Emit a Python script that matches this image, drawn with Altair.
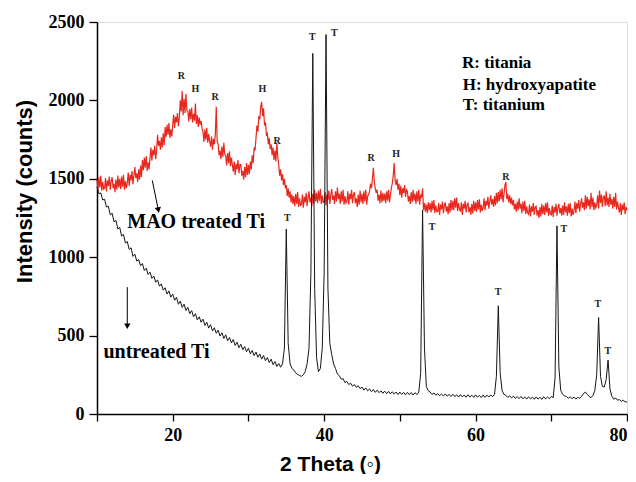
import altair as alt
import pandas as pd

# 2-theta grids (deg)
X_START = 10.0
U_STEP = 0.25   # untreated scan
M_STEP = 0.125  # MAO scan

# untreated Ti (black), one row per degree: .00 .25 .50 .75
untreated = [
    1450, 1405, 1410, 1365,
    1370, 1320, 1325, 1270,
    1280, 1225, 1235, 1180,
    1190, 1135, 1145, 1090,
    1100, 1050, 1060, 1005,
    1020, 975, 985, 945,
    960, 915, 930, 890,
    905, 865, 880, 840,
    855, 815, 830, 790,
    805, 765, 785, 745,
    765, 725, 745, 700,
    720, 680, 700, 660,
    680, 640, 660, 620,
    640, 600, 620, 585,
    605, 565, 585, 548,
    570, 530, 550, 515,
    535, 497, 518, 482,
    505, 467, 488, 453,
    475, 437, 458, 423,
    445, 410, 430, 397,
    420, 384, 405, 372,
    395, 362, 383, 350,
    373, 340, 360, 328,
    350, 315, 335, 303,
    322, 298, 320, 420,
    1180, 450, 320, 290,
    280, 262, 252, 246,
    240, 250, 270, 320,
    420, 900, 2300, 800,
    360, 270, 290, 420,
    900, 2420, 800, 450,
    380, 320, 290, 255,
    245, 222, 225, 200,
    208, 188, 196, 178,
    188, 170, 180, 162,
    172, 152, 166, 148,
    160, 142, 156, 138,
    152, 136, 148, 132,
    146, 130, 144, 128,
    142, 127, 140, 124,
    140, 125, 138, 122,
    138, 124, 137, 121,
    136, 124, 140, 260,
    1300, 420, 175, 148,
    140, 125, 134, 120,
    130, 117, 127, 115,
    128, 114, 125, 112,
    126, 111, 122, 108,
    124, 109, 121, 107,
    123, 108, 120, 106,
    122, 107, 119, 105,
    121, 106, 120, 108,
    122, 110, 125, 240,
    690, 260, 150, 125,
    120, 106, 116, 102,
    114, 100, 111, 98,
    112, 97, 109, 95,
    110, 96, 108, 94,
    109, 95, 107, 93,
    110, 96, 108, 98,
    112, 104, 230, 1200,
    300, 150, 125, 116,
    112, 100, 110, 98,
    108, 95, 106, 100,
    112, 130, 140, 125,
    112, 104, 118, 150,
    250, 615, 240, 175,
    172, 220, 344, 160,
    112, 94, 102, 88,
    92, 80, 88, 78,
    76,
]

# MAO treated Ti (red), one row per degree, step 0.125
mao = [
    1495, 1430, 1510, 1445, 1520, 1425, 1480, 1435,
    1440, 1505, 1420, 1490, 1455, 1515, 1430, 1485,
    1510, 1440, 1470, 1415, 1495, 1430, 1520, 1445,
    1500, 1435, 1515, 1450, 1525, 1430, 1485, 1440,
    1475, 1540, 1455, 1525, 1490, 1550, 1465, 1520,
    1575, 1505, 1535, 1480, 1560, 1495, 1585, 1510,
    1620, 1555, 1635, 1570, 1645, 1550, 1605, 1560,
    1635, 1700, 1615, 1685, 1650, 1710, 1625, 1680,
    1780, 1710, 1740, 1685, 1765, 1700, 1790, 1715,
    1830, 1765, 1845, 1780, 1855, 1760, 1815, 1770,
    1845, 1910, 1825, 1895, 1860, 1920, 1835, 1890,
    2000, 1930, 2060, 1905, 2010, 1920, 2040, 1935,
    1930, 1865, 1945, 1880, 1955, 1860, 1915, 1870,
    1980, 1850, 1905, 1830, 1890, 1845, 1870, 1820,
    1800, 1735, 1815, 1750, 1825, 1730, 1785, 1740,
    1705, 1770, 1685, 1755, 1720, 1780, 1960, 1740,
    1720, 1650, 1680, 1625, 1705, 1640, 1730, 1655,
    1650, 1585, 1665, 1600, 1675, 1580, 1635, 1590,
    1545, 1610, 1525, 1595, 1560, 1620, 1535, 1590,
    1590, 1520, 1550, 1495, 1575, 1510, 1600, 1525,
    1590, 1530, 1610, 1560, 1650, 1600, 1700, 1680,
    1760, 1840, 1800, 1900, 1880, 1960, 1990, 1900,
    1950, 1840, 1860, 1780, 1790, 1720, 1760, 1690,
    1720, 1650, 1700, 1620, 1680, 1610, 1730, 1640,
    1590, 1520, 1560, 1490, 1530, 1460, 1500, 1440,
    1460, 1390, 1440, 1380, 1420, 1350, 1400, 1340,
    1390, 1325, 1405, 1340, 1415, 1320, 1375, 1330,
    1335, 1400, 1315, 1385, 1350, 1410, 1325, 1380,
    1420, 1350, 1380, 1325, 1405, 1340, 1430, 1355,
    1410, 1345, 1425, 1360, 1435, 1340, 1395, 1350,
    1350, 1415, 1330, 1400, 1365, 1425, 1340, 1395,
    1435, 1365, 1395, 1340, 1420, 1355, 1445, 1370,
    1405, 1340, 1420, 1355, 1430, 1335, 1390, 1345,
    1355, 1420, 1335, 1405, 1370, 1430, 1345, 1400,
    1415, 1345, 1375, 1320, 1400, 1335, 1425, 1350,
    1405, 1340, 1420, 1355, 1430, 1335, 1390, 1400,
    1420, 1470, 1440, 1500, 1570, 1480, 1440, 1410,
    1430, 1360, 1400, 1345, 1425, 1350, 1410, 1360,
    1405, 1345, 1420, 1360, 1430, 1350, 1395, 1440,
    1470, 1520, 1600, 1490, 1460, 1500, 1430, 1470,
    1395, 1455, 1380, 1440, 1410, 1460, 1385, 1430,
    1420, 1355, 1390, 1340, 1415, 1350, 1430, 1360,
    1405, 1340, 1420, 1355, 1430, 1335, 1400, 1380,
    1440, 1300, 1345, 1290, 1335, 1280, 1350, 1300,
    1345, 1285, 1360, 1300, 1365, 1280, 1330, 1290,
    1290, 1345, 1270, 1335, 1305, 1355, 1280, 1330,
    1350, 1290, 1325, 1275, 1345, 1285, 1365, 1300,
    1360, 1300, 1375, 1315, 1380, 1295, 1345, 1305,
    1290, 1350, 1270, 1340, 1310, 1360, 1285, 1335,
    1345, 1285, 1320, 1270, 1340, 1280, 1360, 1295,
    1350, 1290, 1365, 1305, 1370, 1285, 1335, 1295,
    1315, 1375, 1300, 1360, 1330, 1385, 1310, 1355,
    1395, 1335, 1370, 1320, 1390, 1330, 1410, 1345,
    1415, 1355, 1430, 1370, 1440, 1350, 1400, 1460,
    1480, 1370, 1405, 1350, 1395, 1340, 1380, 1330,
    1365, 1305, 1340, 1290, 1355, 1300, 1375, 1310,
    1340, 1280, 1355, 1295, 1360, 1275, 1325, 1285,
    1275, 1335, 1260, 1325, 1290, 1345, 1270, 1320,
    1325, 1265, 1300, 1250, 1320, 1260, 1340, 1275,
    1330, 1270, 1345, 1285, 1350, 1265, 1315, 1275,
    1270, 1330, 1255, 1320, 1285, 1340, 1265, 1315,
    1340, 1280, 1315, 1265, 1330, 1270, 1350, 1285,
    1325, 1265, 1340, 1280, 1345, 1260, 1310, 1270,
    1295, 1355, 1280, 1345, 1310, 1365, 1290, 1340,
    1375, 1315, 1350, 1300, 1395, 1310, 1385, 1325,
    1370, 1305, 1410, 1320, 1380, 1300, 1350, 1315,
    1330, 1395, 1310, 1425, 1345, 1400, 1320, 1385,
    1390, 1325, 1420, 1330, 1380, 1320, 1405, 1335,
    1370, 1310, 1385, 1320, 1410, 1305, 1355, 1315,
    1285, 1345, 1270, 1335, 1300, 1350, 1275, 1320,
    1300,
]

# peak markers
peak_labels = ["R", "H", "R", "H", "R", "T", "T", "T", "R", "H", "R", "T", "T", "T", "T", "T"]
peak_x = [21.15, 23.0, 25.6, 31.85, 33.8, 35.13, 38.43, 41.33, 46.2, 49.5, 64.0, 54.26, 62.97, 71.67, 76.16, 77.48]
peak_y = [2156, 2073, 2022, 2073, 1741, 1250, 2404, 2430, 1633, 1658, 1511, 1193, 778, 1180, 702, 402]

key_lines = ["R: titania", "H: hydroxyapatite", "T: titanium"]
key_x = [58.2, 58.3, 58.3]
key_y = [2239, 2100, 1971]

sample_names = ["MAO treated Ti", "untreated Ti"]
sample_x = [14.0, 10.85]
sample_y = [1224, 395]

arrow_x = [17.3, 14.0]
arrow_y = [1490, 809]
arrow_x2 = [18.1, 14.0]
arrow_y2 = [1300, 560]
arrow_angle = [349, 0]

x_ticks = [10, 20, 30, 40, 50, 60, 70, 80]
y_ticks = [0, 500, 1000, 1500, 2000, 2500]

df_u = pd.DataFrame({"x": [X_START + U_STEP * i for i in range(len(untreated))], "y": untreated})
df_m = pd.DataFrame({"x": [X_START + M_STEP * i for i in range(len(mao))], "y": mao})
df_p = pd.DataFrame({"x": peak_x, "y": peak_y, "t": peak_labels})
df_k = pd.DataFrame({"x": key_x, "y": key_y, "t": key_lines})
df_s = pd.DataFrame({"x": sample_x, "y": sample_y, "t": sample_names})
df_a = pd.DataFrame({"x": arrow_x, "y": arrow_y, "x2": arrow_x2, "y2": arrow_y2, "ang": arrow_angle})

xs = alt.Scale(domain=[10, 80], nice=False, zero=False)
ys = alt.Scale(domain=[0, 2500], nice=False, zero=False)

x_axis = alt.Axis(
    values=x_ticks, title="2 Theta (◦)", grid=False, format="d",
    labelExpr="datum.value % 20 == 0 ? datum.label : ''",
    labelFont="Liberation Serif", labelFontWeight="bold", labelFontSize=18, labelColor="black",
    labelPadding=5, tickSize=7, tickColor="black", tickWidth=1.3,
    domainColor="black", domainWidth=1.5,
    titleFont="Liberation Sans", titleFontWeight="bold", titleFontSize=21, titleColor="black",
    titleX=233, titleY=56, titleBaseline="alphabetic", titleAnchor="middle",
)
y_axis = alt.Axis(
    values=y_ticks, title="Intensity (counts)", grid=False, format="d",
    labelFont="Liberation Serif", labelFontWeight="bold", labelFontSize=18, labelColor="black",
    labelPadding=5, tickSize=8, tickColor="black", tickWidth=1.3,
    domainColor="black", domainWidth=1.5,
    titleFont="Liberation Sans", titleFontWeight="bold", titleFontSize=22, titleColor="black",
    titleX=-73, titleY=169, titleBaseline="middle", titleAngle=-90, titleAnchor="middle",
)

red_line = alt.Chart(df_m).mark_line(color="#e8281e", strokeWidth=1.2).encode(
    x=alt.X("x:Q", scale=xs, axis=x_axis),
    y=alt.Y("y:Q", scale=ys, axis=y_axis),
)
black_line = alt.Chart(df_u).mark_line(color="#151515", strokeWidth=1).encode(
    x=alt.X("x:Q", scale=xs),
    y=alt.Y("y:Q", scale=ys),
)
peaks = alt.Chart(df_p).mark_text(font="Liberation Serif", fontWeight="bold", fontSize=10, color="#222").encode(
    x=alt.X("x:Q", scale=xs), y=alt.Y("y:Q", scale=ys), text="t:N"
)
key = alt.Chart(df_k).mark_text(font="Liberation Serif", fontWeight="bold", fontSize=17, color="black",
                                align="left", baseline="middle").encode(
    x=alt.X("x:Q", scale=xs), y=alt.Y("y:Q", scale=ys), text="t:N"
)
samples = alt.Chart(df_s).mark_text(font="Liberation Serif", fontWeight="bold", fontSize=20, color="black",
                                    align="left", baseline="middle").encode(
    x=alt.X("x:Q", scale=xs), y=alt.Y("y:Q", scale=ys), text="t:N"
)
arrow_shafts = alt.Chart(df_a).mark_rule(color="black", strokeWidth=1).encode(
    x=alt.X("x:Q", scale=xs), y=alt.Y("y:Q", scale=ys), x2="x2:Q", y2="y2:Q"
)
arrow_heads = alt.Chart(df_a).mark_point(shape="triangle-down", filled=True, color="black", size=40, opacity=1).encode(
    x=alt.X("x2:Q", scale=xs), y=alt.Y("y2:Q", scale=ys), angle=alt.Angle("ang:Q", scale=None)
)

chart = alt.layer(red_line, black_line, peaks, key, samples, arrow_shafts, arrow_heads).properties(
    width=530, height=392,
    autosize=alt.AutoSizeParams(type="none"),
    padding={"left": 89, "top": 14, "right": 1, "bottom": 60},
).configure_view(stroke="black", strokeWidth=1.5).configure(background="white")

chart.save("out.html", embed_options={"renderer": "svg", "actions": False})
